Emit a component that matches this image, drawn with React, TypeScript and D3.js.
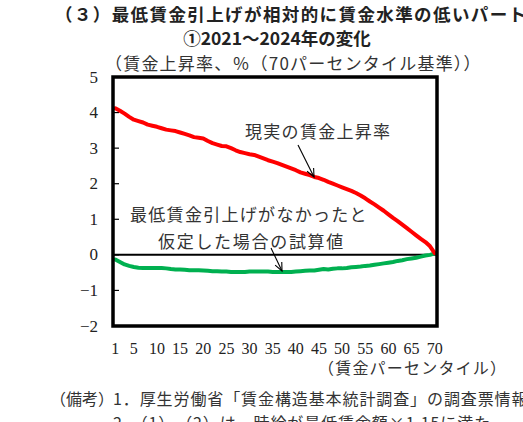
import React from "react";
import * as d3 from "d3";

const percentiles: number[] = Array.from({ length: 70 }, (_, i) => i + 1);

const actualWage: number[] = [
  4.12, 4.05, 3.97, 3.88, 3.8, 3.76, 3.72, 3.66, 3.63, 3.6,
  3.56, 3.52, 3.5, 3.48, 3.44, 3.4, 3.36, 3.31, 3.29, 3.27,
  3.2, 3.14, 3.1, 3.06, 3.05, 3.0, 2.94, 2.89, 2.86, 2.83,
  2.81, 2.76, 2.71, 2.66, 2.62, 2.58, 2.53, 2.48, 2.43, 2.38,
  2.32, 2.28, 2.24, 2.19, 2.16, 2.11, 2.05, 2.0, 1.95, 1.9,
  1.85, 1.8, 1.74, 1.67, 1.59, 1.5, 1.42, 1.33, 1.24, 1.14,
  1.04, 0.95, 0.85, 0.75, 0.65, 0.55, 0.45, 0.36, 0.24, 0.05,
];

const counterfactual: number[] = [
  -0.13, -0.2, -0.27, -0.31, -0.34, -0.36, -0.37, -0.37, -0.37, -0.37,
  -0.37, -0.38, -0.4, -0.41, -0.41, -0.42, -0.43, -0.43, -0.43, -0.44,
  -0.45, -0.46, -0.46, -0.47, -0.47, -0.48, -0.48, -0.48, -0.48, -0.47,
  -0.47, -0.47, -0.47, -0.47, -0.48, -0.48, -0.48, -0.48, -0.48, -0.47,
  -0.46, -0.45, -0.44, -0.44, -0.42, -0.4, -0.41, -0.39, -0.38, -0.38,
  -0.37, -0.35, -0.34, -0.33, -0.31, -0.3, -0.28, -0.26, -0.24, -0.22,
  -0.2, -0.17, -0.15, -0.12, -0.1, -0.08, -0.05, -0.02, 0.0, 0.04,
];

const xTickLabels: number[] = [1, 5, 10, 15, 20, 25, 30, 35, 40, 45, 50, 55, 60, 65, 70];
const yTickLabels: number[] = [5, 4, 3, 2, 1, 0, -1, -2];

const title1 = "（３）最低賃金引上げが相対的に賃金水準の低いパート";
const title2 = "①2021～2024年の変化";
const yTitle = "（賃金上昇率、％（70パーセンタイル基準））";
const xTitle = "（賃金パーセンタイル）";
const labelActual = "現実の賃金上昇率";
const labelCf1 = "最低賃金引上げがなかったと";
const labelCf2 = "仮定した場合の試算値";
const note1a = "（備考）";
const note1b = "1．厚生労働省「賃金構造基本統計調査」の調査票情報";
const note2 = "2．（1）、（2）は、時給が最低賃金額×1.15に満た";

const JP = "'Noto Sans CJK JP', 'Noto Sans', sans-serif";
const NUM = "'Liberation Serif', 'DejaVu Serif', serif";

export default function App() {
  const W = 523;
  const H = 422;
  const left = 113;
  const right = 437;
  const top = 77;
  const bottom = 326;

  const x = d3.scalePoint<number>().domain(percentiles).range([left, right]).padding(0.5);
  const y = d3.scaleLinear().domain([-2, 5]).range([bottom, top]);

  const line = d3
    .line<number>()
    .x((_, i) => x(percentiles[i]) as number)
    .y((d) => y(d));

  const arrow = (x1: number, y1: number, x2: number, y2: number) => {
    const ang = Math.atan2(y2 - y1, x2 - x1);
    const L = 9;
    const spread = 0.42;
    const a1x = x2 - L * Math.cos(ang - spread);
    const a1y = y2 - L * Math.sin(ang - spread);
    const a2x = x2 - L * Math.cos(ang + spread);
    const a2y = y2 - L * Math.sin(ang + spread);
    return (
      <g stroke="#000" strokeWidth={1.1} fill="none">
        <line x1={x1} y1={y1} x2={x2} y2={y2} />
        <polyline points={`${a1x},${a1y} ${x2},${y2} ${a2x},${a2y}`} />
      </g>
    );
  };

  return (
    <svg
      width={W}
      height={H}
      viewBox={`0 0 ${W} ${H}`}
      style={{ position: "absolute", left: 0, top: 0, background: "#fff" }}
    >
      <rect x={0} y={0} width={W} height={H} fill="#fff" />
      {/* Titles */}
      <text x={55} y={13} fontFamily={JP} fontSize={17.5} fontWeight={700} dominantBaseline="central" letterSpacing={1.4} fill="#222">
        {title1}
      </text>
      <text x={277} y={37} fontFamily={JP} fontSize={17.5} fontWeight={700} dominantBaseline="central" textAnchor="middle" fill="#222">
        {title2}
      </text>
      <text x={105} y={62} fontFamily={JP} fontSize={17} dominantBaseline="central" letterSpacing={1.2} fill="#333">
        {yTitle}
      </text>

      {/* y tick labels & ticks */}
      {yTickLabels.map((v) => (
        <g key={v}>
          <text x={98} y={y(v)} fontFamily={NUM} fontSize={17} textAnchor="end" dominantBaseline="central" fill="#222">
            {v < 0 ? `−${Math.abs(v)}` : v}
          </text>
          <line x1={left} x2={left + 6} y1={y(v)} y2={y(v)} stroke="#000" strokeWidth={1.2} />
        </g>
      ))}

      {/* zero line */}
      <line x1={left} x2={right} y1={y(0)} y2={y(0)} stroke="#000" strokeWidth={2} />

      {/* series */}
      <path d={line(counterfactual) ?? ""} fill="none" stroke="#00b050" strokeWidth={4} strokeLinejoin="round" strokeLinecap="round" />
      <path d={line(actualWage) ?? ""} fill="none" stroke="#ff0000" strokeWidth={4} strokeLinejoin="round" strokeLinecap="round" />

      {/* frame */}
      <rect x={left} y={top} width={right - left} height={bottom - top} fill="none" stroke="#000" strokeWidth={3.5} />

      {/* x tick labels */}
      {xTickLabels.map((v) => (
        <text key={v} x={x(v) as number} y={348} fontFamily={NUM} fontSize={16} textAnchor="middle" dominantBaseline="central" fill="#222">
          {v}
        </text>
      ))}
      <text x={318} y={367} fontFamily={JP} fontSize={16} dominantBaseline="central" letterSpacing={1.2} fill="#333">
        {xTitle}
      </text>

      {/* annotations */}
      <text x={245} y={130} fontFamily={JP} fontSize={17} dominantBaseline="central" letterSpacing={1.3} fill="#333">
        {labelActual}
      </text>
      {arrow(298, 145, 314, 177)}
      <text x={130} y={213} fontFamily={JP} fontSize={17} dominantBaseline="central" letterSpacing={1.3} fill="#333">
        {labelCf1}
      </text>
      <text x={158} y={240} fontFamily={JP} fontSize={17} dominantBaseline="central" letterSpacing={1.7} fill="#333">
        {labelCf2}
      </text>
      {arrow(271, 248, 282, 271)}

      {/* notes */}
      <text x={50} y={398} fontFamily={JP} fontSize={16} dominantBaseline="central" fill="#333">
        {note1a}
      </text>
      <text x={113} y={398} fontFamily={JP} fontSize={16} dominantBaseline="central" letterSpacing={0.9} fill="#333">
        {note1b}
      </text>
      <text x={113} y={422} fontFamily={JP} fontSize={16} dominantBaseline="central" letterSpacing={0.9} fill="#333">
        {note2}
      </text>
    </svg>
  );
}
